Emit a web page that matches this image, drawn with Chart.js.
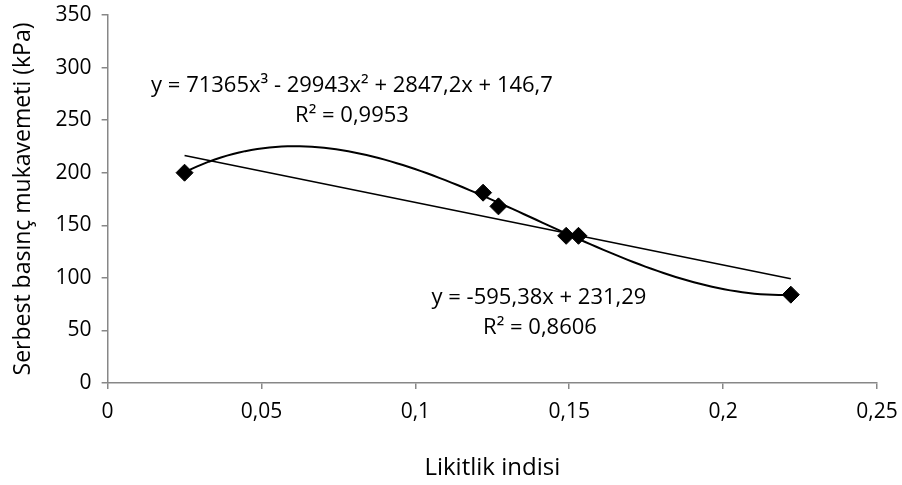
<!DOCTYPE html>
<html>
<head>
<meta charset="utf-8">
<script src="https://cdn.jsdelivr.net/npm/chart.js@4"></script>
<style>
  html, body { margin: 0; padding: 0; background: #fff; }
  #wrap { width: 902px; height: 485px; }
</style>
</head>
<body>
<div id="wrap"><canvas id="chart"></canvas></div>
<script>
// Veri
const likitlik = [0.025, 0.122, 0.127, 0.149, 0.153, 0.222];
const mukavemet = [200, 181, 168, 140, 140, 84];

// Trend çizgisi katsayıları (grafikteki denklemlerden)
const linearCoef = [-595.38, 231.29];            // a*x + b
const polyCoef = [71365, -29943, 2847.2, 146.7]; // x^3, x^2, x, c

const xTickLabels = ['0', '0,05', '0,1', '0,15', '0,2', '0,25'];
const polyLabel = ['y = 71365x³ - 29943x² + 2847,2x + 146,7', 'R² = 0,9953'];
const linearLabel = ['y = -595,38x + 231,29', 'R² = 0,8606'];

const FONT = "'Open Sans', 'Noto Sans', sans-serif";
const axisGray = '#878787';

const points = likitlik.map((x, i) => ({ x: x, y: mukavemet[i] }));

const xMin = Math.min(...likitlik);
const xMax = Math.max(...likitlik);

const linearLine = [xMin, xMax].map(x => ({ x: x, y: linearCoef[0] * x + linearCoef[1] }));

const polyLine = [];
for (let i = 0; i <= 100; i++) {
    const x = xMin + (xMax - xMin) * i / 100;
    const y = polyCoef[0] * x * x * x + polyCoef[1] * x * x + polyCoef[2] * x + polyCoef[3];
    polyLine.push({ x: x, y: y });
}

// Denklem etiketleri
const equationLabels = {
    id: 'equationLabels',
    afterDatasetsDraw(chart) {
        const ctx = chart.ctx;
        ctx.save();
        ctx.fillStyle = '#000';
        ctx.font = '22px ' + FONT;
        ctx.textAlign = 'center';
        ctx.textBaseline = 'middle';
        ctx.fillText(polyLabel[0], 352, 86);
        ctx.fillText(polyLabel[1], 352, 116);
        ctx.fillText(linearLabel[0], 539, 298);
        ctx.fillText(linearLabel[1], 540, 328);
        ctx.restore();
    }
};

new Chart(document.getElementById('chart'), {
    type: 'scatter',
    data: {
        datasets: [
            {
                label: 'Veri',
                data: points,
                pointStyle: 'rectRot',
                pointRadius: 8.5,
                backgroundColor: '#000',
                borderColor: '#000',
                showLine: false
            },
            {
                label: 'Polinom',
                data: polyLine,
                showLine: true,
                borderColor: '#000',
                borderWidth: 2,
                pointRadius: 0,
                tension: 0
            },
            {
                label: 'Doğrusal',
                data: linearLine,
                showLine: true,
                borderColor: '#000',
                borderWidth: 1.6,
                pointRadius: 0
            }
        ]
    },
    options: {
        responsive: true,
        maintainAspectRatio: false,
        animation: false,
        layout: { padding: { top: 0, right: 0, bottom: 2, left: 10 } },
        plugins: {
            legend: { display: false },
            tooltip: { enabled: false }
        },
        scales: {
            x: {
                type: 'linear',
                min: 0,
                max: 0.25,
                afterFit: scale => { scale.paddingRight = 25; },
                ticks: {
                    stepSize: 0.05,
                    color: '#000',
                    font: { family: FONT, size: 21 },
                    padding: 10,
                    maxRotation: 0,
                    callback: (v, i) => xTickLabels[i]
                },
                grid: { drawOnChartArea: false, drawTicks: true, tickLength: 6, color: axisGray, lineWidth: 1.5 },
                border: { color: axisGray, width: 1.5 },
                title: {
                    display: true,
                    text: 'Likitlik indisi',
                    color: '#000',
                    font: { family: FONT, size: 24 },
                    padding: { top: 20, bottom: 0 }
                }
            },
            y: {
                min: 0,
                max: 350,
                afterFit: scale => { scale.paddingTop = 15; },
                ticks: {
                    stepSize: 50,
                    color: '#000',
                    font: { family: FONT, size: 21 },
                    padding: 10
                },
                grid: { drawOnChartArea: false, drawTicks: true, tickLength: 6, color: axisGray, lineWidth: 1.5 },
                border: { color: axisGray, width: 1.5 },
                title: {
                    display: true,
                    text: 'Serbest basınç mukavemeti (kPa)',
                    color: '#000',
                    font: { family: FONT, size: 23 },
                    padding: { top: 0, bottom: 8 }
                }
            }
        }
    },
    plugins: [equationLabels]
});
</script>
</body>
</html>
